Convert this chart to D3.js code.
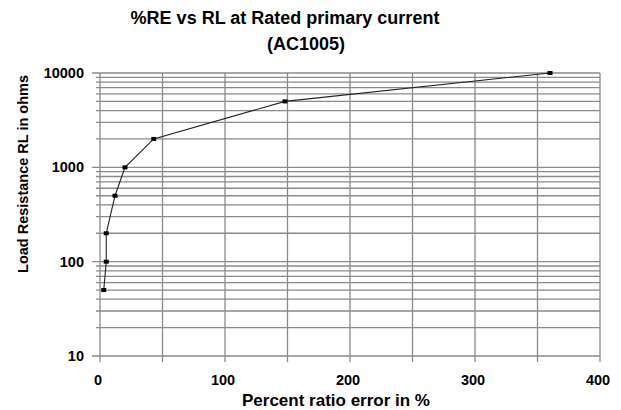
<!DOCTYPE html>
<html>
<head>
<meta charset="utf-8">
<script src="https://cdn.jsdelivr.net/npm/d3@7"></script>
<style>
body { margin: 0; background: #fff; }
text { font-family: "Liberation Sans", Arial, sans-serif; font-weight: bold; fill: #000; }
</style>
</head>
<body>
<script>
// data
var ratioError = [3, 5, 5, 12, 20, 43, 148, 360];
var loadRes = [50, 100, 200, 500, 1000, 2000, 5000, 10000];
var xTicks = [0, 100, 200, 300, 400];
var yTicks = [10, 100, 1000, 10000];

var W = 621, H = 410;
var m = { left: 100, right: 21, top: 73, bottom: 54 };

var svg = d3.select("body").append("svg")
	.attr("width", W)
	.attr("height", H);

var x = d3.scaleLinear().domain([0, 400]).range([m.left, W - m.right]);
var y = d3.scaleLog().domain([10, 10000]).range([H - m.bottom, m.top]);

var grid = "#8a8a8a";

// vertical grid every 50
var xGrid = d3.range(0, 401, 50);
svg.selectAll(".vg").data(xGrid).enter().append("line")
	.attr("x1", d => x(d)).attr("x2", d => x(d))
	.attr("y1", y(10)).attr("y2", y(10000))
	.attr("stroke", grid).attr("stroke-width", 1.3);

// horizontal grid at 1..9 of every decade
var yGrid = [];
for (var e = 1; e < 4; e++) for (var k = 1; k < 10; k++) yGrid.push(k * Math.pow(10, e));
yGrid.push(10000);
svg.selectAll(".hg").data(yGrid).enter().append("line")
	.attr("x1", d => yTicks.indexOf(d) >= 0 ? x(0) - 8 : x(0) - 4)
	.attr("x2", x(400))
	.attr("y1", d => y(d)).attr("y2", d => y(d))
	.attr("stroke", grid).attr("stroke-width", 1.3);

// x tick marks below axis
svg.selectAll(".xt").data(xGrid).enter().append("line")
	.attr("x1", d => x(d)).attr("x2", d => x(d))
	.attr("y1", y(10)).attr("y2", y(10) + 6)
	.attr("stroke", grid).attr("stroke-width", 1.3);

// tick labels
svg.selectAll(".xl").data(xTicks).enter().append("text")
	.attr("x", d => x(d) - 2).attr("y", y(10) + 29)
	.attr("text-anchor", "middle").style("font-size", "14.5px")
	.text(d => d);

svg.selectAll(".yl").data(yTicks).enter().append("text")
	.attr("x", x(0) - 16).attr("y", d => y(d) + 5)
	.attr("text-anchor", "end").style("font-size", "14.5px")
	.text(d => d);

// line + markers
var pts = ratioError.map((v, i) => [v, loadRes[i]]);
svg.append("path")
	.datum(pts)
	.attr("fill", "none")
	.attr("stroke", "#222")
	.attr("stroke-width", 1.1)
	.attr("d", d3.line().x(d => x(d[0])).y(d => y(d[1])));

svg.selectAll(".pt").data(pts).enter().append("rect")
	.attr("x", d => x(d[0]) - 2.5).attr("y", d => y(d[1]) - 2)
	.attr("width", 5).attr("height", 4)
	.attr("fill", "#000");

// titles
svg.append("text").attr("x", 285).attr("y", 23.5)
	.attr("text-anchor", "middle").style("font-size", "18px")
	.text("%RE vs RL at Rated primary current");
svg.append("text").attr("x", 306).attr("y", 50)
	.attr("text-anchor", "middle").style("font-size", "18px")
	.text("(AC1005)");

svg.append("text").attr("x", 336).attr("y", 405.5)
	.attr("text-anchor", "middle").style("font-size", "17px")
	.text("Percent ratio error in %");

svg.append("text")
	.attr("transform", "translate(28,174) rotate(-90)")
	.attr("text-anchor", "middle").style("font-size", "14.5px")
	.text("Load Resistance RL in ohms");
</script>
</body>
</html>
